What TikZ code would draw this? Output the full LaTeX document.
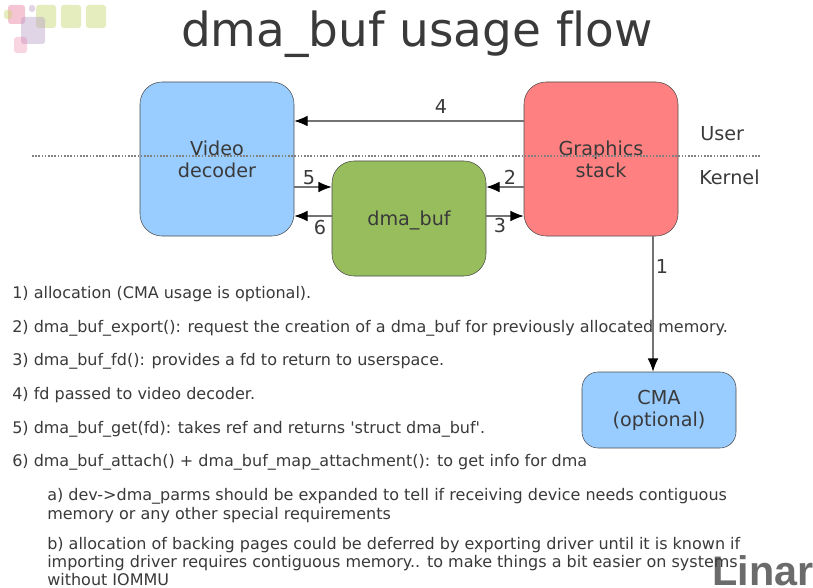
\documentclass[tikz,border=0pt]{standalone}
\usepackage{fontspec}
\setmainfont{DejaVu Sans}[Ligatures={CommonOff,TeXOff}]
\newfontfamily\logofont{Liberation Sans}
\usetikzlibrary{arrows.meta}
\definecolor{txtgray}{HTML}{3A3A3A}
\definecolor{blubox}{HTML}{99CCFF}
\definecolor{redbox}{HTML}{FF8080}
\definecolor{grnbox}{HTML}{97BD5D}
\definecolor{logopink}{HTML}{E8769A}
\definecolor{logolila}{HTML}{B79AC8}
\definecolor{logogrn}{HTML}{C3D566}
\tikzset{
  bignode/.style={draw=black!70,rounded corners=16.5pt,minimum width=115.5pt,minimum height=115.5pt,align=center,
    inner sep=0pt,text=txtgray,font=\fontsize{14.4}{16.5}\selectfont},
  flow/.style={draw=black!55,line width=.9pt,-{Latex[length=10pt,width=8pt,black]}},
  numlabel/.style={text=txtgray,inner sep=0pt,font=\fontsize{14.4}{16}\selectfont},
  sidelabel/.style={text=txtgray,inner sep=0pt,anchor=base west,font=\fontsize{14.4}{16}\selectfont},
  bodyline/.style={text=txtgray,inner sep=0pt,anchor=base west,font=\fontsize{12}{14}\selectfont},
  logosq/.style={rounded corners=2pt,opacity=.42}
}
\begin{document}
\begin{tikzpicture}[x=.75pt,y=-.75pt]
  \useasboundingbox (0,0) rectangle (813,588);
  \clip (0,0) rectangle (813,588);
  \fill[white] (0,0) rectangle (813,588);
  % logo squares
  \foreach \x in {36,61,86}{
    \fill[logogrn,logosq] (\x,5) rectangle +(20,23);
  }
  \fill[logopink,logosq] (8,5) rectangle (25,24);
  \fill[logolila,logosq] (29,5) rectangle (35,12);
  \fill[logolila,logosq] (21,17) rectangle (45,44);
  \fill[logopink,logosq,opacity=.3] (14,37) rectangle (27,53);
  \fill[logogrn,logosq] (4,10) rectangle (12,19);
  \node[text=txtgray,inner sep=0pt,anchor=base,font=\fontsize{35.2}{40}\selectfont] (title) at (417,47) {dma\_buf usage flow};
  \node[bignode,fill=blubox] (video) at (217,159) {Video\\decoder};
  \node[bignode,fill=redbox] (graphics) at (601,159) {Graphics\\stack};
  \node[bignode,fill=grnbox,minimum height=86.25pt,text depth=0pt] (dmabuf) at (409,218.5) {dma\_buf};
  \node[bignode,fill=blubox,minimum height=57pt,rounded corners=12pt] (cma) at (659,410) {CMA\\(optional)};
  \coordinate (row4) at (0,121);
  \coordinate (row25) at (0,187);
  \coordinate (row36) at (0,216);
  \coordinate (col1) at (653,0);
  \coordinate (lineL) at (32,156);
  \coordinate (lineR) at (761,156);
  \draw[black!50,dash pattern=on 1.2pt off 1.2pt,line width=.8pt] (lineL)--(lineR);
  \draw[flow] (graphics.west |- row4)--(video.east |- row4);
  \draw[flow] (video.east |- row25)--(dmabuf.west |- row25);
  \draw[flow] (graphics.west |- row25)--(dmabuf.east |- row25);
  \draw[flow] (dmabuf.east |- row36)--(graphics.west |- row36);
  \draw[flow] (dmabuf.west |- row36)--(video.east |- row36);
  \node[numlabel] (n4) at (441,107) {4};
  \node[numlabel] (n5) at (309,178) {5};
  \node[numlabel] (n2) at (510,177) {2};
  \node[numlabel] (n3) at (500,226) {3};
  \node[numlabel] (n6) at (320,228) {6};
  \node[numlabel] (n1) at (662,266) {1};
  \node[sidelabel] (user) at (700,141) {User};
  \node[sidelabel] (kernel) at (699,184) {Kernel};
  \node[inner sep=0pt,anchor=base west,text=black!58,font=\logofont\fontsize{31}{34}\bfseries\selectfont] (linaro) at (712,585) {Linaro};
  \foreach \n/\x/\y/\txt in {
    a/12/298/{1) allocation (CMA usage is optional).},
    b/12/332/{2) dma\_buf\_export(): request the creation of a dma\_buf for previously allocated memory.},
    c/12/365/{3) dma\_buf\_fd(): provides a fd to return to userspace.},
    d/12/399/{4) fd passed to video decoder.},
    e/12/433/{5) dma\_buf\_get(fd): takes ref and returns 'struct dma\_buf'.},
    f/12/466/{6) dma\_buf\_attach() + dma\_buf\_map\_attachment(): to get info for dma},
    g/47/500/{a) dev->dma\_parms should be expanded to tell if receiving device needs contiguous},
    h/47/519/{memory or any other special requirements},
    i/47/549/{b) allocation of backing pages could be deferred by exporting driver until it is known if},
    j/47/567/{importing driver requires contiguous memory.. to make things a bit easier on systems},
    k/47/585/{without IOMMU}}{
    \node[bodyline] (line\n) at (\x,\y) {\txt};
  }
  \draw[flow] (graphics.south -| col1)--(cma.north -| col1);
\end{tikzpicture}
\end{document}
